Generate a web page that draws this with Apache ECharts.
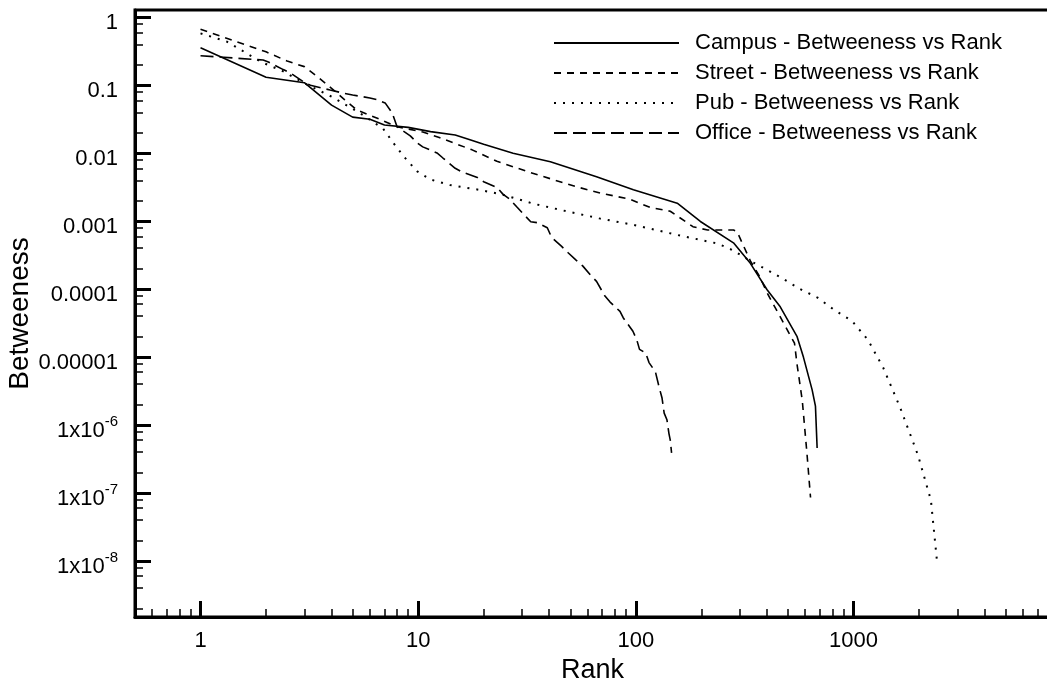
<!DOCTYPE html>
<html>
<head>
<meta charset="utf-8">
<script src="https://cdn.jsdelivr.net/npm/echarts@6/dist/echarts.min.js"></script>
<style>
html,body{margin:0;padding:0;background:#fff;}
#chart{width:1047px;height:688px;}
</style>
</head>
<body>
<div id="chart"></div>
<script>
// ---- data (rank, betweeness) ----
const campus = [[1,0.357],[2,0.131],[3,0.109],[4,0.051],[5,0.034],[6,0.0316],[7,0.026],[9,0.024],[11.4,0.0208],[14.8,0.0185],[17.3,0.0158],[20,0.0135],[27.3,0.0100],[40.5,0.0075],[66,0.0045],[97.5,0.0029],[155,0.00184],[198,0.00099],[281,0.00048],[336,0.00024],[401,0.000098],[461,0.000055],[551,0.000020],[589,0.0000100],[646,0.0000033],[669,0.0000019],[681,0.00000046]];
const street = [[1,0.667],[2,0.31],[2.5,0.227],[3,0.188],[3.5,0.128],[4,0.09],[4.6,0.061],[5.25,0.043],[6.45,0.033],[8,0.0245],[10.5,0.0205],[12.5,0.017],[17.7,0.0112],[23,0.0076],[31.6,0.0054],[41.6,0.0041],[53.5,0.0032],[68.6,0.0026],[94,0.0021],[116,0.0016],[144,0.0014],[183,0.00083],[214,0.00074],[281,0.00074],[292,0.00070],[336,0.00026],[372,0.00015],[402,0.000087],[461,0.000039],[536,0.000016],[551,0.0000077],[582,0.0000023],[612,0.00000037],[635,0.000000086]];
const pub = [[1,0.58],[1.32,0.44],[1.9,0.22],[2.4,0.16],[3,0.107],[4,0.068],[5.4,0.039],[6.9,0.023],[7.7,0.0141],[8.6,0.0089],[9.9,0.0054],[11.4,0.0041],[14,0.0034],[19,0.0029],[24,0.0025],[34,0.0018],[48,0.0014],[68,0.0011],[98,0.00088],[139,0.00068],[165,0.0006],[237,0.00047],[281,0.00037],[336,0.00026],[404,0.00019],[478,0.00014],[570,0.0001],[684,0.000075],[812,0.00005],[985,0.000034],[1165,0.000018],[1370,0.000007],[1640,0.0000018],[1980,0.00000036],[2270,0.000000078],[2420,0.00000001]];
const office = [[1,0.272],[1.94,0.235],[2.05,0.22],[2.4,0.17],[2.6,0.15],[3,0.11],[3.2,0.1],[3.94,0.085],[4.5,0.077],[5,0.072],[6,0.065],[6.5,0.061],[7.05,0.055],[7.6,0.039],[8,0.0245],[9.2,0.018],[9.9,0.0142],[10.5,0.0124],[12.2,0.0101],[13,0.0085],[14.8,0.006],[15.9,0.0053],[18.7,0.0044],[20,0.0038],[23.1,0.0031],[24.5,0.0025],[26.4,0.0021],[28.5,0.0016],[32.9,0.00098],[35.2,0.00095],[39.2,0.0008],[41,0.00058],[45.5,0.00043],[49,0.00034],[53,0.00027],[57,0.00022],[62,0.00016],[66,0.00013],[72,0.00008],[76,0.000065],[84.6,0.000047],[87.5,0.000038],[97,0.000024],[101,0.000018],[104,0.000013],[111,0.0000115],[115,0.0000083],[123,0.0000061],[128,0.0000036],[132,0.0000025],[135,0.0000015],[139,0.0000012],[142,0.00000075],[144,0.0000006],[146,0.00000039]];

const seriesNames = ['Campus - Betweeness vs Rank','Street - Betweeness vs Rank','Pub - Betweeness vs Rank','Office - Betweeness vs Rank'];

// ---- ticks ----
const xTickValues = [1,10,100,1000];
const xTickLabels = ['1','10','100','1000'];
const xMinorTicks = [0.6,0.7,0.8,0.9,2,3,4,5,6,7,8,9,20,30,40,50,60,70,80,90,200,300,400,500,600,700,800,900,2000,3000,4000,5000,6000,7000];
const yTickValues = [1e-8,1e-7,1e-6,1e-5,1e-4,1e-3,0.01,0.1,1];
const yTickLabels = ['1x10^-8','1x10^-7','1x10^-6','0.00001','0.0001','0.001','0.01','0.1','1'];
const yMinorTicks = [];
[2,4,6,8].forEach(m => { for (let e = -9; e <= 0; e++) { const v = m*Math.pow(10,e); if (v > 1.5e-9 && v < 1.28) yMinorTicks.push(v); } });

const FONT = 'Liberation Sans, Arial, Helvetica, sans-serif';

function yFmt(v){
  const e = Math.round(Math.log10(v));
  const i = yTickValues.findIndex(t => Math.round(Math.log10(t)) === e);
  const s = yTickLabels[i];
  if (s.indexOf('^') >= 0) {
    const p = s.split('^');
    return '{a|' + p[0] + '}{b|' + p[1] + '}';
  }
  return '{a|' + s + '}';
}
function xFmt(v){
  const e = Math.round(Math.log10(v));
  const i = xTickValues.findIndex(t => Math.round(Math.log10(t)) === e);
  return xTickLabels[i];
}

const chart = echarts.init(document.getElementById('chart'), null, {renderer:'canvas'});
const gridRect = {left:135, top:10, width:915, height:607};
const xMin = 0.5, xMax = 8000, yMin = 1.5e-9, yMax = 1.28;

const option = {
  animation:false,
  backgroundColor:'#fff',
  grid: Object.assign({show:true, borderColor:'#000', borderWidth:3, backgroundColor:'transparent', containLabel:false, outerBoundsMode:'none'}, gridRect),
  legend: {
    orient:'vertical', left:548, top:27, itemWidth:125, itemHeight:14, itemGap:8,
    itemStyle:{opacity:0},
    textStyle:{fontSize:22, fontFamily:FONT, color:'#000', padding:[0,0,0,11]},
    data: seriesNames
  },
  xAxis: [
    {type:'log', logBase:10, min:xMin, max:xMax, position:'bottom',
     name:'Rank', nameLocation:'middle', nameGap:40, nameMoveOverlap:false,
     nameTextStyle:{fontSize:27, fontFamily:FONT, color:'#000'},
     axisLine:{show:true, lineStyle:{color:'#000', width:3}},
     axisTick:{show:true, inside:true, length:16, lineStyle:{color:'#000', width:3}, customValues:xTickValues},
     axisLabel:{show:true, margin:13, fontSize:22, fontFamily:FONT, color:'#000', customValues:xTickValues, formatter:xFmt},
     splitLine:{show:false}, minorTick:{show:false}},
    {type:'log', logBase:10, min:xMin, max:xMax, position:'bottom',
     axisLine:{show:false},
     axisTick:{show:true, inside:true, length:8, lineStyle:{color:'#000', width:1.5}, customValues:xMinorTicks},
     axisLabel:{show:false}, splitLine:{show:false}}
  ],
  yAxis: [
    {type:'log', logBase:10, min:yMin, max:yMax, position:'left',
     name:'Betweeness', nameLocation:'middle', nameGap:101, nameRotate:90, nameMoveOverlap:false,
     nameTextStyle:{fontSize:28, fontFamily:FONT, color:'#000'},
     axisLine:{show:true, lineStyle:{color:'#000', width:3}},
     axisTick:{show:true, inside:true, length:16, lineStyle:{color:'#000', width:3}, customValues:yTickValues},
     axisLabel:{show:true, margin:17, fontSize:22, fontFamily:FONT, color:'#000', customValues:yTickValues, formatter:yFmt,
       rich:{
         a:{fontSize:22, lineHeight:22, fontFamily:FONT, color:'#000', padding:[12,0,0,0]},
         b:{fontSize:15, lineHeight:15, fontFamily:FONT, color:'#000', verticalAlign:'top', padding:[0,0,0,0]}
       }},
     splitLine:{show:false}, minorTick:{show:false}},
    {type:'log', logBase:10, min:yMin, max:yMax, position:'left',
     axisLine:{show:false},
     axisTick:{show:true, inside:true, length:8, lineStyle:{color:'#000', width:1.5}, customValues:yMinorTicks},
     axisLabel:{show:false}, splitLine:{show:false}}
  ],
  series: [
    {name:seriesNames[0], type:'line', data:campus, symbol:'none', showSymbol:false, lineStyle:{color:'#000', width:1.6, type:'solid'}, itemStyle:{color:'#000'}},
    {name:seriesNames[1], type:'line', data:street, symbol:'none', showSymbol:false, lineStyle:{color:'#000', width:1.6, type:[7,6]}, itemStyle:{color:'#000'}},
    {name:seriesNames[2], type:'line', data:pub, symbol:'none', showSymbol:false, lineStyle:{color:'#000', width:2, type:[2,7]}, itemStyle:{color:'#000'}},
    {name:seriesNames[3], type:'line', data:office, symbol:'none', showSymbol:false, lineStyle:{color:'#000', width:1.6, type:[13,6]}, itemStyle:{color:'#000'}}
  ]
};
chart.setOption(option);
</script>
</body>
</html>
